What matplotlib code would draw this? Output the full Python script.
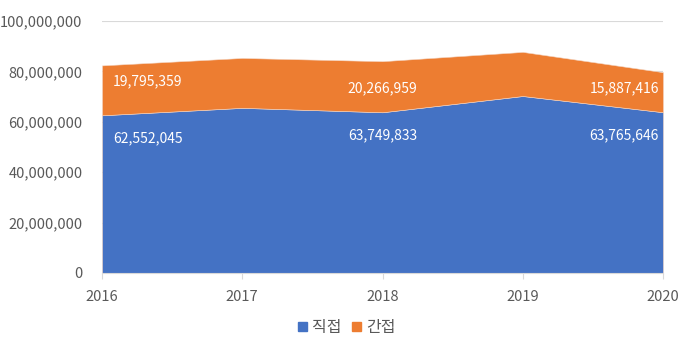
import numpy as np
import matplotlib.pyplot as plt
from matplotlib.ticker import FuncFormatter
from matplotlib.patches import Patch

plt.rcParams['font.family'] = ['Noto Sans CJK KR', 'DejaVu Sans']

years = [2016, 2017, 2018, 2019, 2020]
direct = [62552045, 65500000, 63749833, 70200000, 63765646]
indirect = [19795359, 19800000, 20266959, 17500000, 15887416]
series_names = ['직접', '간접']
colors = ['#4472C4', '#ED7D31']

# which years get data labels and how they sit
label_idx = [0, 2, 4]
label_ha = ['left', 'center', 'right']
label_dx = [0.08, 0.0, -0.03]
top_dy = [3500000, -500000, 1700000]

fig = plt.figure(figsize=(6.8, 3.37), dpi=100)
ax = fig.add_axes([0.15, 0.19, 0.825, 0.748])

x = np.array(years)
ax.stackplot(x, direct, indirect, colors=colors, edgecolor='#f4d6c4', linewidth=0.4)

ax.set_xlim(years[0], years[-1])
ax.set_ylim(0, 100000000)
ax.set_yticks(np.arange(0, 100000001, 20000000))
ax.yaxis.set_major_formatter(FuncFormatter(lambda v, p: f'{int(v):,}'))
ax.set_xticks(years)

ax.grid(axis='y', color='#d9d9d9', linewidth=0.8)
ax.set_axisbelow(True)
for s in ['top', 'right', 'left']:
    ax.spines[s].set_visible(False)
ax.spines['bottom'].set_color('#d9d9d9')
ax.tick_params(axis='y', length=0, labelsize=10.5, labelcolor='#595959', pad=14)
ax.tick_params(axis='x', length=4, color='#d9d9d9', labelsize=10.5, labelcolor='#595959', pad=8)

for i, ha, dx, dy in zip(label_idx, label_ha, label_dx, top_dy):
    d = direct[i]
    o = indirect[i]
    ax.text(years[i] + dx, d + o / 2 + dy, f'{o:,}', ha=ha, va='center',
            color='white', fontsize=10)
    ax.text(years[i] + dx, d - 9000000, f'{d:,}', ha=ha, va='center',
            color='white', fontsize=10)

handles = [Patch(color=c, label=n) for c, n in zip(colors, series_names)]
fig.legend(handles=handles, loc='center', bbox_to_anchor=(0.51, 0.028), ncol=2,
           frameon=False, fontsize=11.5, handlelength=0.55, handleheight=0.55,
           handletextpad=0.3, columnspacing=0.7, labelcolor='#595959')

fig.savefig('out.png', dpi=100)
